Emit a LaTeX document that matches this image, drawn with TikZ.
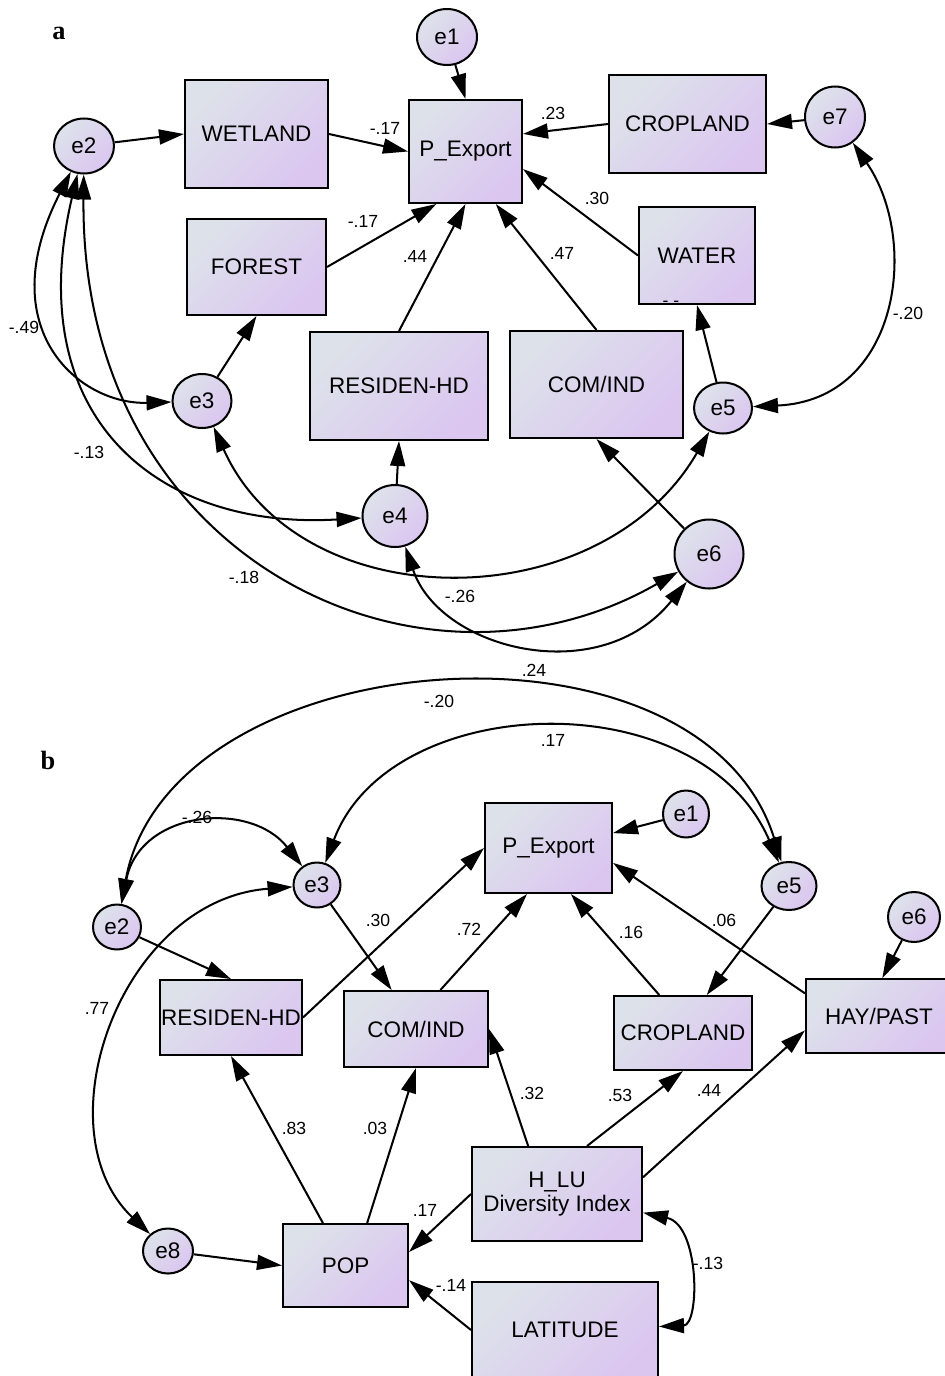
\documentclass[tikz,border=0pt]{standalone}
\usepackage{fontspec}
\setmainfont{Liberation Sans}
\newfontfamily\panelfont{Liberation Serif}
\usetikzlibrary{arrows.meta,shapes.geometric}
\definecolor{boxtop}{HTML}{DDE2EA}
\definecolor{boxbot}{HTML}{DBC6F0}

\begin{document}
\begin{tikzpicture}[x=0.02cm, y=-0.02cm,
      observed/.style ={rectangle, draw, line width=1.15pt, left color=boxtop, right color=boxbot, shading angle=45,
                        font=\fontsize{12.8}{13.6}\selectfont, align=center, inner sep=0pt},
      latent/.style ={ellipse, draw, line width=1.15pt, left color=boxtop, right color=boxbot, shading angle=45,
                      font=\fontsize{12.8}{14}\selectfont, inner sep=0pt},
      regpath/.style ={line width=1.15pt, -{Triangle[length=0.5cm,width=0.3cm]}},
      cov/.style ={line width=1.15pt, {Triangle[length=0.5cm,width=0.3cm]}-{Triangle[length=0.5cm,width=0.3cm]}},
      coef/.style ={font=\fontsize{10}{11}\selectfont, inner sep=0pt},
      panel/.style ={font=\panelfont\bfseries\fontsize{15}{17}\selectfont, inner sep=0pt}]

   \useasboundingbox (0,0) rectangle (945,1376);

   % panel a
   \node[panel] (pa) at (59,33) {a};
   \node[latent, minimum width=1.2cm, minimum height=1.12cm] (e1a) at (447,37) {e1};
   \node[latent, minimum width=1.2cm, minimum height=1.1cm] (e2a) at (84,146) {e2};
   \node[latent, minimum width=1.18cm, minimum height=1.08cm] (e3a) at (202,401) {e3};
   \node[latent, minimum width=1.3cm, minimum height=1.24cm] (e4a) at (395,516) {e4};
   \node[latent, minimum width=1.16cm, minimum height=1.02cm] (e5a) at (723,408) {e5};
   \node[latent, minimum width=1.38cm, minimum height=1.38cm] (e6a) at (709,554) {e6};
   \node[latent, minimum width=1.2cm, minimum height=1.22cm] (e7a) at (835,117) {e7};

   \node[observed, minimum width=2.26cm, minimum height=2.06cm] (pexpA) at (465.5,151.5) {P\_Export};
   \node[observed, minimum width=2.86cm, minimum height=2.16cm] (wetA) at (256.5,134) {WETLAND};
   \node[observed, minimum width=2.78cm, minimum height=1.92cm] (forA) at (256.5,267) {FOREST};
   \node[observed, minimum width=3.56cm, minimum height=2.16cm] (resA) at (399,386) {RESIDEN-HD};
   \node[observed, minimum width=3.46cm, minimum height=2.14cm] (comA) at (596.5,384.5) {COM/IND};
   \node[observed, minimum width=3.14cm, minimum height=1.96cm] (cropA) at (687.5,124) {CROPLAND};
   \node[observed, minimum width=2.32cm, minimum height=1.94cm] (watA) at (697,255.5) {WATER};

   \draw[regpath] (e1a) -- (pexpA.north);
   \draw[regpath] (e2a) -- (wetA.west);
   \draw[regpath] (wetA.east) -- (pexpA.west);
   \draw[regpath] (forA.east) -- (pexpA.241);
   \draw[regpath] (resA.north) -- (pexpA.south);
   \draw[regpath] (comA.north) -- (pexpA.300);
   \draw[regpath] (watA.west) -- (pexpA.343);
   \draw[regpath] (cropA.west) -- (pexpA.17);
   \draw[regpath] (e7a) -- (cropA.east);
   \draw[regpath] (e3a) -- (forA.south);
   \draw[regpath] (e4a) -- (resA.south);
   \draw[regpath] (e5a) -- (watA.south);
   \draw[regpath] (e6a) -- (comA.south);

   \draw[cov] (e2a) .. controls (-10,330) and (80,405) .. (e3a);
   \draw[cov] (e2a) .. controls (20,420) and (160,530) .. (e4a);
   \draw[cov] (e2a) .. controls (80,560) and (420,720) .. (e6a);
   \draw[cov] (e3a) .. controls (300,620) and (600,620) .. (e5a);
   \draw[cov] (e4a) .. controls (440,650) and (600,690) .. (e6a);
   \draw[cov] (e7a) .. controls (920,240) and (900,400) .. (e5a);

   \node[coef] (c1a) at (385,128) {-.17};
   \node[coef] (c2a) at (363,221) {-.17};
   \node[coef] (c3a) at (415,256) {.44};
   \node[coef] (c4a) at (553,113) {.23};
   \node[coef] (c5a) at (597,198) {.30};
   \node[coef] (c6a) at (562,253) {.47};
   \node[coef] (c7a) at (671,304) {- -};
   \node[coef] (c8a) at (908,313) {-.20};
   \node[coef] (c9a) at (24,327) {-.49};
   \node[coef] (c10a) at (89,452) {-.13};
   \node[coef] (c11a) at (244,577) {-.18};
   \node[coef] (c12a) at (460,596) {-.26};
   \node[coef] (c13a) at (534,670) {.24};

   % panel b
   \node[panel] (pb) at (48,760) {b};
   \node[latent, minimum width=0.92cm, minimum height=0.94cm] (e1b) at (686,814) {e1};
   \node[latent, minimum width=0.96cm, minimum height=0.9cm] (e2b) at (117,927) {e2};
   \node[latent, minimum width=0.94cm, minimum height=0.9cm] (e3b) at (317,885) {e3};
   \node[latent, minimum width=1.1cm, minimum height=0.96cm] (e5b) at (789,886) {e5};
   \node[latent, minimum width=1.04cm, minimum height=1.0cm] (e6b) at (914,917) {e6};
   \node[latent, minimum width=1.0cm, minimum height=0.9cm] (e8b) at (168,1251) {e8};

   \node[observed, minimum width=2.54cm, minimum height=1.8cm] (pexpB) at (548.5,848) {P\_Export};
   \node[observed, minimum width=2.76cm, minimum height=1.48cm] (cropB) at (683,1033) {CROPLAND};
   \node[observed, minimum width=2.92cm, minimum height=1.48cm] (hay) at (879,1016) {HAY/PAST};
   \node[observed, minimum width=2.84cm, minimum height=1.5cm] (resB) at (231,1017.5) {RESIDEN-HD};
   \node[observed, minimum width=2.88cm, minimum height=1.52cm] (comB) at (416,1029) {COM/IND};
   \node[observed, minimum width=2.5cm, minimum height=1.66cm] (pop) at (345.5,1265.5) {POP};
   \node[observed, minimum width=3.4cm, minimum height=1.88cm] (hlu) at (557,1194) {H\_LU\\Diversity Index};
   \node[observed, minimum width=3.72cm, minimum height=1.92cm] (lat) at (565,1330) {LATITUDE};

   \draw[regpath] (e1b) -- (pexpB.13);
   \draw[regpath] (resB.east) -- (pexpB.west);
   \draw[regpath] (comB.58) -- (pexpB.245);
   \draw[regpath] (cropB.122) -- (pexpB.296);
   \draw[regpath] (hay.163) -- (pexpB.347);
   \draw[regpath] (e5b) -- (cropB.58);
   \draw[regpath] (e6b) -- (hay.85);
   \draw[regpath] (e2b) -- (resB.north);
   \draw[regpath] (e3b) -- (comB.122);
   \draw[regpath] (pop.118) -- (resB.south);
   \draw[regpath] (pop.63) -- (comB.south);
   \draw[regpath] (hlu.121) -- (comB.east);
   \draw[regpath] (hlu.58) -- (cropB.south);
   \draw[regpath] (hlu.11) -- (hay.191);
   \draw[regpath] (hlu.west) -- (pop.12);
   \draw[regpath] (lat.west) -- (pop.347);
   \draw[regpath] (e8b) -- (pop.west);

   \draw[cov] (e2b) .. controls (140,810) and (250,800) .. (e3b);
   \draw[cov] (e2b) .. controls (170,640) and (700,600) .. (e5b);
   \draw[cov] (e3b) .. controls (390,690) and (700,680) .. (e5b);
   \draw[cov] (e3b) .. controls (120,900) and (40,1130) .. (e8b);
   \draw[cov] (hlu) .. controls (700,1225) and (700,1325) .. (lat);

   \node[coef] (c1b) at (439,701) {-.20};
   \node[coef] (c2b) at (553,740) {.17};
   \node[coef] (c3b) at (197,817) {-.26};
   \node[coef] (c4b) at (378,920) {.30};
   \node[coef] (c5b) at (469,929) {.72};
   \node[coef] (c6b) at (631,932) {.16};
   \node[coef] (c7b) at (724,920) {.06};
   \node[coef] (c8b) at (97,1008) {.77};
   \node[coef] (c9b) at (294,1128) {.83};
   \node[coef] (c10b) at (375,1128) {.03};
   \node[coef] (c11b) at (425,1210) {.17};
   \node[coef] (c12b) at (451,1285) {-.14};
   \node[coef] (c13b) at (532,1093) {.32};
   \node[coef] (c14b) at (620,1095) {.53};
   \node[coef] (c15b) at (709,1090) {.44};
   \node[coef] (c16b) at (708,1263) {-.13};
 \end{tikzpicture}
\end{document}
